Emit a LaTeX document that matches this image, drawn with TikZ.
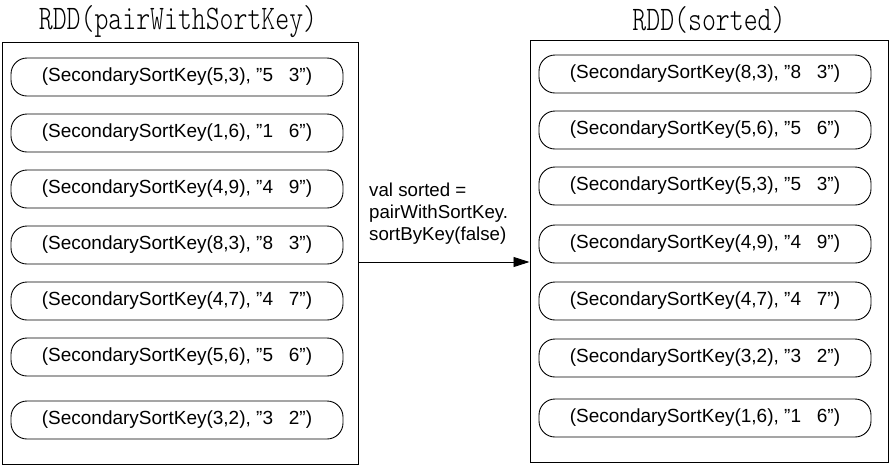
\documentclass[tikz,border=0pt]{standalone}
\usepackage{fontspec}
\setmainfont{Liberation Sans}
\newfontfamily\titlemono{Latin Modern Mono Light}
\usetikzlibrary{arrows.meta}
\tikzset{
  container/.style={draw=black, line width=1pt, inner sep=0pt},
  item/.style={draw=black, line width=0.9pt, rounded corners=16pt, minimum width=332pt, minimum height=38pt, inner sep=0pt, font=\fontsize{19}{22}\selectfont},
  title/.style={inner sep=0pt, font=\titlemono\fontsize{26.5}{30}\selectfont},
  conn/.style={line width=0.9pt, -{Triangle[length=16pt,width=10pt]}},
  lbl/.style={inner sep=0pt, align=left, anchor=north west, font=\fontsize{18.7}{22}\selectfont}
}
\newcommand{\itm}[2]{(SecondarySortKey(#1,#2), ”#1\ \ \ #2”)}
\begin{document}
\begin{tikzpicture}[x=1pt,y=-1pt]
\useasboundingbox (0,0) rectangle (891,467);
\node[container, minimum width=356pt, minimum height=422pt] (L) at (180,253) {};
\node[container, minimum width=358pt, minimum height=422pt] (R) at (709,251) {};
\node[title] (tL) at (178,22) {\scalebox{1}[1.3]{RDD(pairWithSortKey)}};
\node[title] (tR) at (709,20) {\scalebox{1}[1.3]{RDD(sorted)}};
\node[item] (l1) at (177,77) {\itm{5}{3}};
\node[item] (l2) at (177,133) {\itm{1}{6}};
\node[item] (l3) at (177,189) {\itm{4}{9}};
\node[item] (l4) at (177,245) {\itm{8}{3}};
\node[item] (l5) at (177,301) {\itm{4}{7}};
\node[item] (l6) at (177,357) {\itm{5}{6}};
\node[item] (l7) at (177,420) {\itm{3}{2}};
\node[item] (r1) at (705,74) {\itm{8}{3}};
\node[item] (r2) at (705,130) {\itm{5}{6}};
\node[item] (r3) at (705,186) {\itm{5}{3}};
\node[item] (r4) at (705,244) {\itm{4}{9}};
\node[item] (r5) at (705,301) {\itm{4}{7}};
\node[item] (r6) at (705,358) {\itm{3}{2}};
\node[item] (r7) at (705,418) {\itm{1}{6}};
\coordinate (ay) at (0,262);
\draw[conn] (L.east |- ay) -- (R.west |- ay);
\node[lbl] (lab) at (369,183) {val sorted =\\pairWithSortKey.\\sortByKey(false)};
\end{tikzpicture}
\end{document}
